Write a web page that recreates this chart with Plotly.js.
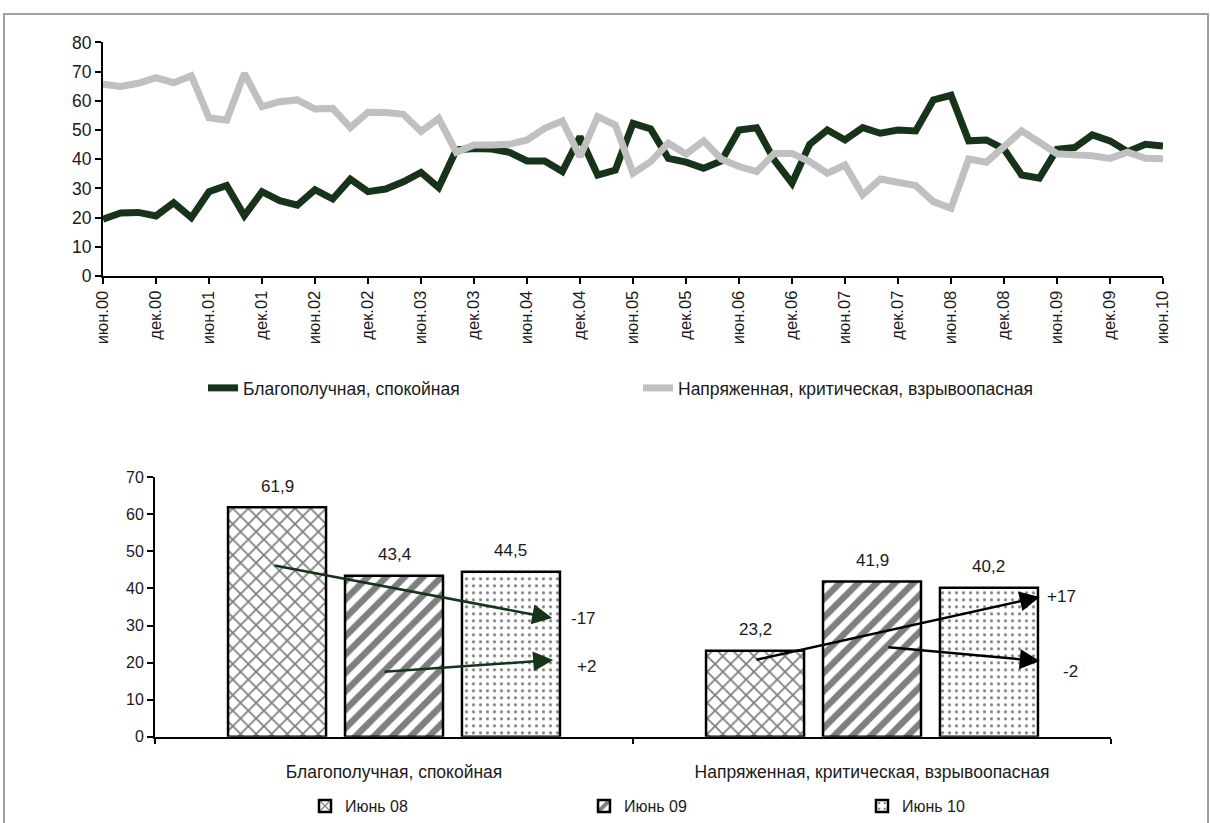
<!DOCTYPE html>
<html>
<head>
<meta charset="utf-8">
<script src="https://cdn.plot.ly/plotly-3.0.1.min.js"></script>
<style>
  html, body { margin: 0; padding: 0; background: #ffffff; overflow: hidden; }
  #chart { width: 1210px; height: 823px; }
</style>
</head>
<body>
<div id="chart"></div>
<script>
// ---------- DATA ----------
const seriesNames = ['Благополучная, спокойная', 'Напряженная, критическая, взрывоопасная'];

// bimonthly observations, June 2000 ... June 2010
const monthShort = ['янв.', 'фев.', 'мар.', 'апр.', 'май.', 'июн.', 'июл.', 'авг.', 'сен.', 'окт.', 'ноя.', 'дек.'];
const startYear = 2000, startMonth = 6, stepMonths = 2, pointCount = 61;

const calm = [
  19.5, 21.6, 21.8, 20.6, 25.1, 20.0, 28.9, 31.0, 20.7, 28.9,
  25.8, 24.3, 29.6, 26.4, 33.2, 28.9, 29.8, 32.3, 35.5, 30.3,
  43.2, 43.7, 43.5, 42.4, 39.4, 39.4, 35.8, 47.7, 34.6, 36.3,
  52.3, 50.4, 40.3, 39.0, 36.9, 39.4, 50.0, 50.8, 39.7, 31.8,
  45.1, 50.0, 46.6, 50.8, 48.9, 50.0, 49.7, 60.3, 61.9, 46.3,
  46.6, 43.5, 34.6, 33.5, 43.4, 44.0, 48.3, 46.3, 42.6, 45.1,
  44.5
];
const tense = [
  65.7, 64.9, 66.0, 67.9, 66.2, 68.6, 54.2, 53.4, 69.4, 58.0,
  59.7, 60.3, 57.2, 57.4, 50.8, 56.1, 56.0, 55.4, 49.5, 54.0,
  42.4, 44.9, 44.9, 45.1, 46.6, 50.6, 53.1, 40.9, 54.6, 51.7,
  35.2, 39.2, 45.5, 41.8, 46.3, 40.1, 37.5, 35.8, 42.0, 42.0,
  39.2, 35.2, 38.0, 27.8, 33.2, 32.3, 31.0, 25.5, 23.2, 40.1,
  39.0, 44.3, 49.7, 45.8, 41.9, 41.5, 41.2, 40.3, 42.4, 40.3,
  40.2
];
const tickLabels = [
  'июн.00', 'дек.00', 'июн.01', 'дек.01', 'июн.02', 'дек.02', 'июн.03',
  'дек.03', 'июн.04', 'дек.04', 'июн.05', 'дек.05', 'июн.06', 'дек.06',
  'июн.07', 'дек.07', 'июн.08', 'дек.08', 'июн.09', 'дек.09', 'июн.10'
];

const barCategories = seriesNames;
const barSeriesNames = ['Июнь 08', 'Июнь 09', 'Июнь 10'];
const june08 = [61.9, 23.2];
const june09 = [43.4, 41.9];
const june10 = [44.5, 40.2];
const changeLabels = ['-17', '+2', '+17', '-2'];

// ---------- BUILD ----------
const periods = [];
for (let i = 0; i < pointCount; i++) {
  const m = (startMonth - 1 + i * stepMonths);
  const y = startYear + Math.floor(m / 12);
  periods.push(monthShort[m % 12] + String(y % 100).padStart(2, '0'));
}

const W = 1210, H = 823;
const px = v => v / W;
const py = v => 1 - v / H;
const FONT = '"Liberation Sans", Arial, sans-serif';
const TXT = '#1a1a1a';
const DARK = '#17341b';
const GRAY = '#c0c0c0';

const traces = [
  {
    type: 'scatter', mode: 'lines', name: seriesNames[0],
    x: periods, y: calm, xaxis: 'x', yaxis: 'y', legend: 'legend',
    line: { color: DARK, width: 7 }, hoverinfo: 'skip'
  },
  {
    type: 'scatter', mode: 'lines', name: seriesNames[1],
    x: periods, y: tense, xaxis: 'x', yaxis: 'y', legend: 'legend2',
    line: { color: GRAY, width: 7 }, hoverinfo: 'skip'
  }
];

const barValues = [june08, june09, june10];
const patterns = [
  { shape: 'x', size: 11, solidity: 0.3, fgcolor: '#000', bgcolor: '#fff', fillmode: 'overlay' },
  { shape: '/', size: 13, solidity: 0.5, fgcolor: '#000', bgcolor: '#fff', fillmode: 'overlay' },
  { shape: '.', size: 7, solidity: 0.16, fgcolor: '#000', bgcolor: '#fff', fillmode: 'overlay' }
];
const barLegends = ['legend3', 'legend4', 'legend5'];
barValues.forEach((vals, s) => {
  traces.push({
    type: 'bar', name: barSeriesNames[s], x: barCategories, y: vals,
    xaxis: 'x2', yaxis: 'y2', legend: barLegends[s],
    marker: { color: '#fff', pattern: patterns[s], line: { color: '#000', width: 2.5 } },
    hoverinfo: 'skip'
  });
});

const bargap = 0.266, bargroupgap = 0.162;
const slot = (1 - bargap) / barValues.length;
const annotations = [];
barValues.forEach((vals, s) => {
  vals.forEach((v, c) => {
    annotations.push({
      xref: 'x2', yref: 'y2', x: c + (s - 1) * slot, y: v,
      text: v.toFixed(1).replace('.', ','), showarrow: false,
      yanchor: 'middle', yshift: 21, font: { size: 17, color: TXT, family: FONT }
    });
  });
});

// change arrows: tail, head (category units, value units), colour, label position
const arrows = [
  { from: [-0.253, 46.3], to: [0.331, 32.0], color: DARK, label: [0.397, 31.8] },
  { from: [-0.023, 17.5], to: [0.333, 20.7], color: DARK, label: [0.402, 18.9] },
  { from: [0.755, 20.7], to: [1.351, 37.7], color: '#000', label: [1.397, 37.8] },
  { from: [1.031, 24.2], to: [1.351, 20.4], color: '#000', label: [1.415, 17.6] }
];
arrows.forEach((a, i) => {
  annotations.push({
    xref: 'x2', yref: 'y2', axref: 'x2', ayref: 'y2',
    x: a.to[0], y: a.to[1], ax: a.from[0], ay: a.from[1],
    text: '', showarrow: true, arrowhead: 2, arrowsize: 1.6, arrowwidth: 2.5,
    arrowcolor: a.color, standoff: 0, startstandoff: 0
  });
  annotations.push({
    xref: 'x2', yref: 'y2', x: a.label[0], y: a.label[1],
    text: changeLabels[i], showarrow: false, xanchor: 'center', yanchor: 'middle',
    font: { size: 17, color: TXT, family: FONT }
  });
});

const axisCommon = {
  showline: true, linecolor: '#000', linewidth: 2,
  ticks: 'outside', tickcolor: '#000', tickwidth: 2, ticklen: 6,
  showgrid: false, zeroline: false, fixedrange: true, automargin: false,
  tickfont: { family: FONT, size: 16, color: TXT }
};

function oneLegend(xPix, yPix, size) {
  return {
    orientation: 'h', x: px(xPix), y: py(yPix), xanchor: 'left', yanchor: 'middle',
    bgcolor: 'rgba(0,0,0,0)', borderwidth: 0,
    font: { family: FONT, size: size, color: TXT }, itemclick: false, itemdoubleclick: false
  };
}

const layout = {
  width: W, height: H,
  margin: { l: 0, r: 0, t: 0, b: 0, pad: 0, autoexpand: false },
  paper_bgcolor: '#fff', plot_bgcolor: 'rgba(0,0,0,0)',
  font: { family: FONT, size: 16, color: TXT },
  separators: ', ',
  showlegend: true,
  xaxis: Object.assign({}, axisCommon, {
    domain: [px(103), px(1163)], anchor: 'y', type: 'category',
    range: [0, pointCount - 1],
    tickmode: 'array',
    tickvals: tickLabels.map((_, k) => periods[k * 3]),
    ticktext: tickLabels, tickangle: -90,
    tickfont: { family: FONT, size: 16.5, color: TXT }
  }),
  yaxis: Object.assign({}, axisCommon, {
    domain: [py(276.1), py(42.4)], anchor: 'x',
    range: [0, 80], tickmode: 'linear', tick0: 0, dtick: 10,
    tickfont: { family: FONT, size: 17.5, color: TXT }
  }),
  xaxis2: Object.assign({}, axisCommon, {
    domain: [px(155), px(1111)], anchor: 'y2', type: 'category',
    tickson: 'boundaries', ticklen: 5, ticklabelstandoff: 18,
    tickfont: { family: FONT, size: 17.5, color: TXT }
  }),
  yaxis2: Object.assign({}, axisCommon, {
    domain: [py(736.7), py(477.3)], anchor: 'x2',
    range: [0, 70], tickmode: 'linear', tick0: 0, dtick: 10
  }),
  barmode: 'group', bargap: bargap, bargroupgap: bargroupgap,
  legend: oneLegend(203, 388, 17.5),
  legend2: oneLegend(638, 388, 17.5),
  legend3: oneLegend(305, 806, 16),
  legend4: oneLegend(584, 806, 16),
  legend5: oneLegend(862, 806, 16),
  annotations: annotations,
  shapes: [{
    type: 'rect', xref: 'paper', yref: 'paper',
    x0: px(4), x1: px(1208), y0: py(900), y1: py(14),
    line: { color: '#a0a0a0', width: 2 }, fillcolor: 'rgba(0,0,0,0)', layer: 'below'
  }]
};

Plotly.newPlot('chart', traces, layout, { staticPlot: true, displayModeBar: false });
</script>
</body>
</html>
